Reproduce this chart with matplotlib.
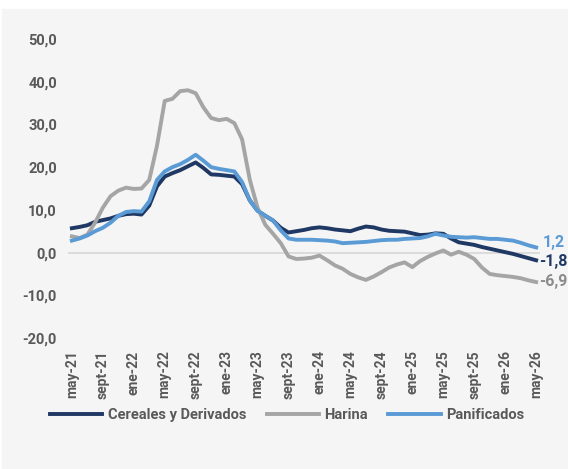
import matplotlib
matplotlib.use('Agg')
import matplotlib.pyplot as plt
from matplotlib import font_manager
from matplotlib.patches import Rectangle
import numpy as np

# pick a narrow font if there is one
names = {f.name for f in font_manager.fontManager.ttflist}
main_font = 'Liberation Sans Narrow' if 'Liberation Sans Narrow' in names else 'Roboto'
plt.rcParams['font.family'] = [main_font, 'DejaVu Sans']

# monthly variation, may-21 .. may-26
cereales = [5.7, 6.0, 6.4, 7.2, 7.6, 8.0, 8.6, 9.0, 9.1, 8.9,
            11.0, 15.5, 17.8, 18.6, 19.3, 20.2, 21.1, 19.8, 18.3, 18.2,
            18.0, 17.8, 16.0, 12.2, 9.8, 8.6, 7.5, 5.8, 4.7, 5.0,
            5.3, 5.7, 5.9, 5.7, 5.4, 5.2, 5.0, 5.6, 6.1, 5.9,
            5.4, 5.1, 5.0, 4.9, 4.5, 4.1, 4.2, 4.5, 4.4, 3.3,
            2.4, 2.1, 1.8, 1.3, 0.9, 0.5, 0.1, -0.3, -0.8, -1.3,
            -1.8]
harina = [3.8, 3.4, 4.2, 7.0, 10.5, 13.2, 14.5, 15.2, 14.9, 15.0,
          17.0, 25.0, 35.5, 36.0, 37.8, 38.0, 37.3, 34.0, 31.5, 31.0,
          31.3, 30.3, 26.5, 17.0, 10.5, 6.5, 4.4, 2.2, -0.9, -1.5,
          -1.4, -1.2, -0.7, -1.8, -3.0, -3.8, -5.0, -5.8, -6.4, -5.6,
          -4.6, -3.5, -2.8, -2.3, -3.4, -2.0, -1.0, -0.2, 0.5, -0.5,
          0.2, -0.5, -1.5, -3.5, -5.0, -5.3, -5.5, -5.7, -6.0, -6.5,
          -6.9]
panificados = [2.8, 3.3, 4.0, 5.0, 5.8, 7.0, 8.6, 9.5, 9.7, 9.6,
               12.0, 17.0, 19.0, 20.0, 20.7, 21.7, 22.9, 21.5, 20.0, 19.6,
               19.3, 19.0, 16.5, 12.2, 9.8, 8.6, 7.5, 5.2, 3.3, 3.0,
               3.0, 3.0, 2.9, 2.8, 2.6, 2.2, 2.3, 2.4, 2.5, 2.7,
               2.9, 3.0, 3.0, 3.2, 3.3, 3.4, 3.8, 4.4, 4.0, 3.7,
               3.6, 3.5, 3.6, 3.4, 3.2, 3.2, 3.0, 2.8, 2.3, 1.7,
               1.2]
tick_labels = ['may-21', 'sept-21', 'ene-22', 'may-22', 'sept-22', 'ene-23',
               'may-23', 'sept-23', 'ene-24', 'may-24', 'sept-24', 'ene-25',
               'may-25', 'sept-25', 'ene-26', 'may-26']

c_dark = '#1f3864'
c_gray = '#a5a5a5'
c_light = '#5b9bd5'
c_text = '#595959'

W, H = 568, 469
fig = plt.figure(figsize=(W / 100, H / 100), dpi=100)
fig.patches.append(Rectangle((2 / W, 0), 1, 1 - 9 / H, transform=fig.transFigure,
                             color='#f5f5f5', zorder=-1))
ax = fig.add_axes([68 / W, 1 - 338 / H, 472 / W, 299 / H])
ax.patch.set_alpha(0)

x = np.arange(len(cereales))
ax.axhline(0, color='#d9d9d9', lw=1.3, zorder=0)
ax.plot(x, cereales, color=c_dark, lw=2.8, label='Cereales y Derivados')
ax.plot(x, harina, color=c_gray, lw=2.8, label='Harina')
ax.plot(x, panificados, color=c_light, lw=2.8, label='Panificados')

ax.set_xlim(-0.5, len(x) - 0.5)
ax.set_ylim(-20, 50)
yt = np.arange(-20, 51, 10)
ax.set_yticks(yt)
ax.set_yticklabels([f'{v:.1f}'.replace('.', ',') for v in yt], fontweight='bold')
ax.set_xticks(x[::4])
ax.set_xticklabels(tick_labels, rotation=90, fontweight='bold')
for s in ax.spines.values():
    s.set_visible(False)
ax.tick_params(axis='y', length=0, labelsize=10.5, labelcolor=c_text, pad=8)
ax.tick_params(axis='x', length=0, labelsize=10, labelcolor=c_text, pad=9)

# end labels
ax.text(60.9, 2.4, '1,2', color=c_light, fontsize=11.5, fontweight='bold', va='center')
ax.text(60.4, -2.1, '-1,8', color=c_dark, fontsize=11.5, fontweight='bold', va='center')
ax.text(60.4, -6.8, '-6,9', color='#8c8c8c', fontsize=11.5, fontweight='bold', va='center')

leg = fig.legend(loc='center', bbox_to_anchor=(287 / W, 1 - 415 / H), ncol=3,
                 frameon=False, handlelength=3.6, handletextpad=0.35,
                 columnspacing=1.4, prop={'weight': 'bold', 'size': 10.5})
for t in leg.get_texts():
    t.set_color(c_text)

fig.savefig('out.png', dpi=100)
